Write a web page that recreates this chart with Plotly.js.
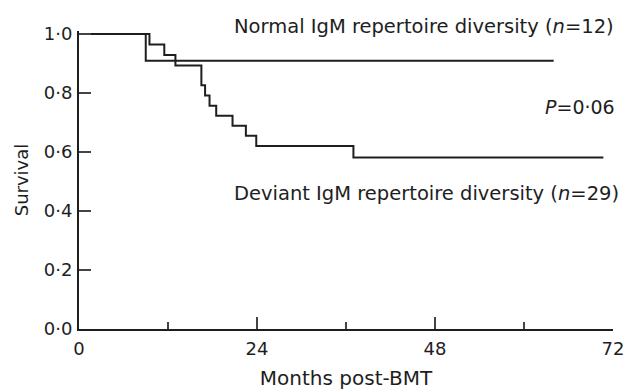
<!DOCTYPE html>
<html>
<head>
<meta charset="utf-8">
<script src="https://cdn.plot.ly/plotly-3.0.1.min.js"></script>
<style>html,body{margin:0;padding:0;background:#fff;}#chart{width:626px;height:390px;}</style>
</head>
<body>
<div id="chart"></div>
<script>
// Kaplan-Meier step data
var normalMonths = [0, 9.0, 64.0];
var normalSurvival = [1.0, 0.909, 0.909];

var deviantMonths = [0, 9.5, 11.5, 13.0, 16.5, 17.0, 17.6, 18.5, 20.7, 22.5, 23.9, 37.0, 70.7];
var deviantSurvival = [1.0, 0.964, 0.929, 0.893, 0.826, 0.791, 0.757, 0.723, 0.689, 0.655, 0.620, 0.581, 0.581];

var yTickVals = [0, 0.2, 0.4, 0.6, 0.8, 1.0];
var yTickText = ['0·0', '0·2', '0·4', '0·6', '0·8', '1·0'];
var xTickVals = [0, 24, 48, 72];
var xTickText = ['0', '24', '48', '72'];

var normalLabel = 'Normal IgM repertoire diversity (<i>n</i>=12)';
var deviantLabel = 'Deviant IgM repertoire diversity (<i>n</i>=29)';
var pLabel = '<i>P</i>=0·06';

var FONT = 'DejaVu Sans, Arial, sans-serif';
var INK = '#1e1e1e';

var traces = [
  {x: normalMonths, y: normalSurvival, mode: 'lines', line: {shape: 'hv', color: INK, width: 2}, name: 'Normal', hoverinfo: 'skip'},
  {x: deviantMonths, y: deviantSurvival, mode: 'lines', line: {shape: 'hv', color: INK, width: 2}, name: 'Deviant', hoverinfo: 'skip'}
];

var layout = {
  width: 626, height: 390,
  margin: {l: 79, r: 13, t: 31.35, b: 60.7, pad: 0},
  paper_bgcolor: '#fff', plot_bgcolor: '#fff',
  showlegend: false,
  font: {family: FONT, color: INK},
  xaxis: {
    range: [0, 72], showgrid: false, zeroline: false,
    showline: true, linecolor: INK, linewidth: 2,
    ticks: 'inside', ticklen: 12, tickwidth: 1.3, tickcolor: '#444',
    tickvals: xTickVals, ticktext: xTickText,
    tickfont: {family: FONT, size: 18, color: INK},
    ticklabelstandoff: 2,
    minor: {ticks: 'inside', ticklen: 7, tickwidth: 1.3, tickcolor: '#444', tickvals: [12, 36, 60]},
    title: {text: 'Months post-BMT', font: {family: FONT, size: 20, color: INK}, standoff: 14},
    fixedrange: true
  },
  yaxis: {
    range: [0, 1.01], showgrid: false, zeroline: false,
    showline: true, linecolor: INK, linewidth: 2,
    ticks: 'inside', ticklen: 12, tickwidth: 1.3, tickcolor: '#444',
    tickvals: yTickVals, ticktext: yTickText,
    tickfont: {family: FONT, size: 18, color: INK},
    ticklabelstandoff: 1,
    title: {text: 'Survival', font: {family: FONT, size: 18, color: INK}, standoff: 10},
    fixedrange: true
  },
  annotations: [
    {x: 0.2865, y: 1.0144, xref: 'paper', yref: 'paper', xanchor: 'left', yanchor: 'middle', text: normalLabel, showarrow: false, font: {family: FONT, size: 19.5, color: INK}},
    {x: 0.2865, y: 0.454, xref: 'paper', yref: 'paper', xanchor: 'left', yanchor: 'middle', text: deviantLabel, showarrow: false, font: {family: FONT, size: 19.5, color: INK}},
    {x: 1.0075, y: 0.746, xref: 'paper', yref: 'paper', xanchor: 'right', yanchor: 'middle', text: pLabel, showarrow: false, font: {family: FONT, size: 19, color: INK}}
  ]
};

Plotly.newPlot('chart', traces, layout, {displayModeBar: false, staticPlot: true});
</script>
</body>
</html>
